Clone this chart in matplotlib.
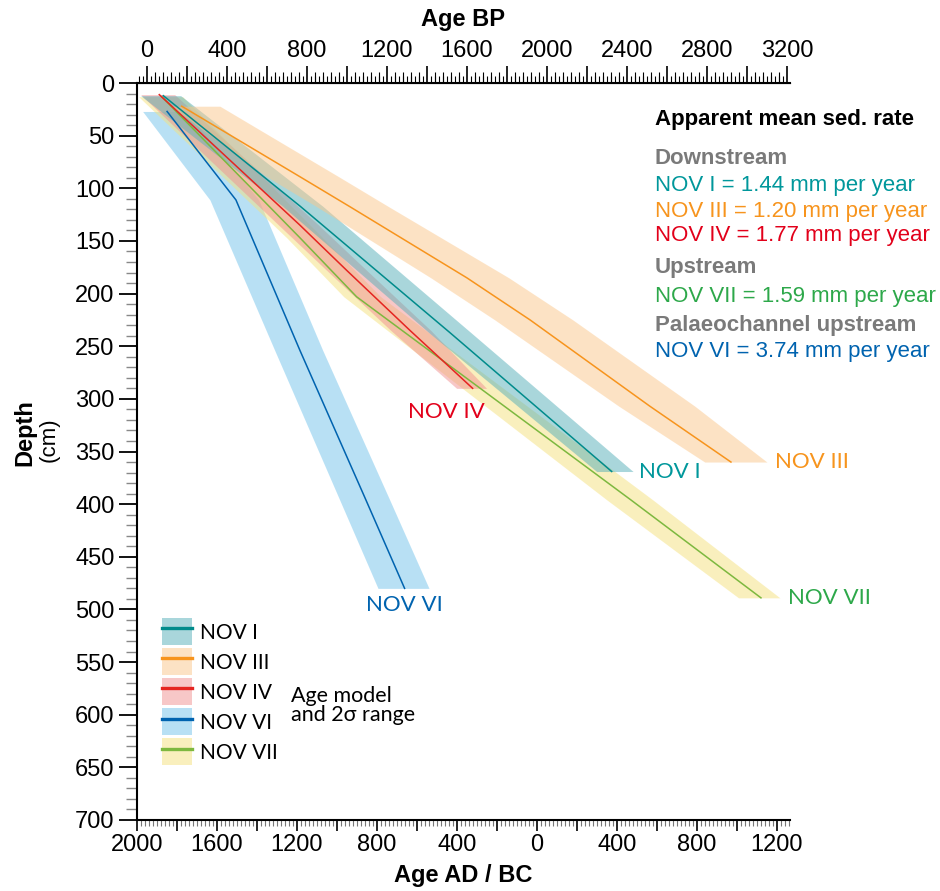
import matplotlib
matplotlib.use("Agg")
import numpy as np
import matplotlib.pyplot as plt
from matplotlib.patches import Patch
from matplotlib.lines import Line2D
from matplotlib.legend_handler import HandlerTuple
from matplotlib.ticker import MultipleLocator, FuncFormatter, FixedLocator

plt.rcParams['font.family'] = ['Liberation Sans', 'DejaVu Sans']

# -----------------------------
# Data (age BP vs depth cm, 2 sigma range)
# -----------------------------
nov1_depth = [12, 117, 237, 369]
nov1_age = [83, 767, 1515, 2324]
nov1_lo = [-30, 680, 1410, 2249]
nov1_hi = [170, 880, 1620, 2431]

nov3_depth = [22, 89, 117.5, 185, 225, 307, 360]
nov3_age = [175, 766, 1016, 1600, 1916, 2515, 2920]
nov3_lo = [120, 600, 850, 1420, 1740, 2360, 2789]
nov3_hi = [366, 960, 1210, 1810, 2130, 2740, 3100]

nov4_depth = [11, 135, 178, 235, 290]
nov4_age = [63, 766, 1000, 1316, 1629]
nov4_lo = [-30, 660, 900, 1220, 1549]
nov4_hi = [140, 860, 1100, 1420, 1699]

nov6_depth = [27, 111, 254, 394, 480]
nov6_age = [102, 446, 766, 1091, 1289]
nov6_lo = [-20, 316, 640, 960, 1156]
nov6_hi = [200, 560, 880, 1210, 1411]

nov7_depth = [13, 147, 203, 396, 489]
nov7_age = [75, 766, 1049, 2420, 3070]
nov7_lo = [-40, 700, 985, 2300, 2958]
nov7_hi = [180, 880, 1170, 2530, 3165]

core_names = ["NOV I", "NOV III", "NOV IV", "NOV VI", "NOV VII"]
line_colors = ["#008B8B", "#F7941D", "#E52521", "#0063AF", "#7DB83F"]
band_colors = ["#55AFB9", "#FBC78B", "#F19191", "#73C3EB", "#F5E17D"]
text_colors = ["#00979B", "#F7941D", "#E2001A", "#0063AF", "#2DA84A"]

rate_headers = ["Downstream", "Upstream", "Palaeochannel upstream"]
rate_lines = ["NOV I = 1.44 mm per year", "NOV III = 1.20 mm per year",
              "NOV IV = 1.77 mm per year", "NOV VII = 1.59 mm per year",
              "NOV VI = 3.74 mm per year"]

cores = {
    "NOV I": (nov1_depth, nov1_age, nov1_lo, nov1_hi),
    "NOV III": (nov3_depth, nov3_age, nov3_lo, nov3_hi),
    "NOV IV": (nov4_depth, nov4_age, nov4_lo, nov4_hi),
    "NOV VI": (nov6_depth, nov6_age, nov6_lo, nov6_hi),
    "NOV VII": (nov7_depth, nov7_age, nov7_lo, nov7_hi),
}

# -----------------------------
# Figure
# -----------------------------
fig = plt.figure(figsize=(9.4, 8.91), dpi=100)
ax = fig.add_axes([0.1454, 0.0797, 0.695, 0.8271])

draw_order = ["NOV VI", "NOV VII", "NOV IV", "NOV I", "NOV III"]
for name in draw_order:
    i = core_names.index(name)
    d, a, lo, hi = cores[name]
    ax.fill_betweenx(d, lo, hi, color=band_colors[i], alpha=0.5, lw=0, zorder=1)
for name in draw_order:
    i = core_names.index(name)
    d, a, lo, hi = cores[name]
    ax.plot(a, d, color=line_colors[i], lw=1.1, zorder=3)

ax.set_xlim(-50, 3215)
ax.set_ylim(700, 0)

# top axis: Age BP
ax.xaxis.set_ticks_position('top')
ax.xaxis.set_label_position('top')
ax.xaxis.set_major_locator(MultipleLocator(200))
ax.xaxis.set_minor_locator(MultipleLocator(20))
ax.xaxis.set_major_formatter(FuncFormatter(lambda v, p: f"{int(round(v))}" if round(v) % 400 == 0 else ""))
ax.tick_params(axis='x', which='major', direction='out', length=12, width=1.2, labelsize=17, pad=3)
ax.tick_params(axis='x', which='minor', direction='out', length=5, width=0.8)
ax.set_xlabel("Age BP", fontsize=17, fontweight='bold', labelpad=10)

mid = ax.secondary_xaxis('top')
mid.xaxis.set_major_locator(FixedLocator([v for v in range(40, 3201, 40) if v % 200 != 0]))
mid.tick_params(length=8, width=0.8, labelsize=0)
mid.xaxis.set_major_formatter(FuncFormatter(lambda v, p: ""))

# bottom axis: Age AD / BC
bot = ax.secondary_xaxis('bottom', functions=(lambda x: 1950 - x, lambda x: 1950 - x))
bot.xaxis.set_major_locator(MultipleLocator(200))
bot.xaxis.set_minor_locator(MultipleLocator(20))
bot.xaxis.set_major_formatter(FuncFormatter(lambda v, p: f"{abs(int(round(v)))}" if round(v) % 400 == 0 else ""))
bot.tick_params(which='major', length=8, width=1.2, labelsize=17, pad=2)
bot.tick_params(which='minor', length=4, width=0.8, color='#777777')
bot.set_xlabel("Age AD / BC", fontsize=17, fontweight='bold', labelpad=6)
bot.spines['bottom'].set_linewidth(1.5)

# depth axis
ax.yaxis.set_major_locator(MultipleLocator(50))
ax.yaxis.set_minor_locator(MultipleLocator(10))
ax.tick_params(axis='y', which='major', length=13, width=1.3, labelsize=17, pad=3)
ax.tick_params(axis='y', which='minor', length=8, width=1.0, color='#888888')

ax.spines['right'].set_visible(False)
ax.spines['bottom'].set_visible(False)
ax.spines['left'].set_linewidth(1.5)
ax.spines['top'].set_linewidth(1.5)

fig.text(25 / 940, 1 - 433 / 891, "Depth", rotation=90, fontsize=17, fontweight='bold',
         ha='center', va='center')
fig.text(49 / 940, 1 - 440 / 891, "(cm)", rotation=90, fontsize=16, ha='center', va='center')

# core labels at end of each model
lab_font = ['Lato', 'DejaVu Sans']
ax.text(1496, 312, "NOV IV", color=text_colors[2], fontsize=16, family=lab_font, ha='center', va='center')
ax.text(2459, 369, "NOV I", color=text_colors[0], fontsize=16, family=lab_font, ha='left', va='center')
ax.text(3138, 360, "NOV III", color=text_colors[1], fontsize=16, family=lab_font, ha='left', va='center')
ax.text(3203, 489, "NOV VII", color=text_colors[4], fontsize=16, family=lab_font, ha='left', va='center')
ax.text(1286, 496, "NOV VI", color=text_colors[3], fontsize=16, family=lab_font, ha='center', va='center')

# sedimentation rate block
tx = 655 / 940
fig.text(tx, 1 - 120 / 891, "Apparent mean sed. rate", fontsize=16, fontweight='bold', va='center')
fig.text(tx, 1 - 158 / 891, rate_headers[0], fontsize=16, fontweight='bold', color='#7A7A7A', va='center')
fig.text(tx, 1 - 185 / 891, rate_lines[0], fontsize=16, color=text_colors[0], va='center')
fig.text(tx, 1 - 212 / 891, rate_lines[1], fontsize=16, color=text_colors[1], va='center')
fig.text(tx, 1 - 236 / 891, rate_lines[2], fontsize=16, color=text_colors[2], va='center')
fig.text(tx, 1 - 267 / 891, rate_headers[1], fontsize=16, fontweight='bold', color='#7A7A7A', va='center')
fig.text(tx, 1 - 297 / 891, rate_lines[3], fontsize=16, color=text_colors[4], va='center')
fig.text(tx, 1 - 325 / 891, rate_headers[2], fontsize=16, fontweight='bold', color='#7A7A7A', va='center')
fig.text(tx, 1 - 352 / 891, rate_lines[4], fontsize=16, color=text_colors[3], va='center')

# legend
handles = [(Patch(facecolor=band_colors[i], alpha=0.5, edgecolor='none'),
            Line2D([], [], color=line_colors[i], lw=2.4)) for i in range(len(core_names))]
ax.legend(handles, core_names, handler_map={tuple: HandlerTuple(ndivide=1, pad=0)},
          frameon=False, loc='upper left', bbox_to_anchor=(0.0392, 0.2737),
          borderpad=0, borderaxespad=0, handlelength=1.45, handleheight=1.61,
          labelspacing=0.15, handletextpad=0.35, prop={'family': lab_font, 'size': 15})
ax.text(0.236, 0.155, "Age model\nand 2σ range", transform=ax.transAxes, fontsize=15.5,
        family=lab_font, va='center', ha='left', linespacing=0.95)

fig.savefig("out.png", dpi=100)
